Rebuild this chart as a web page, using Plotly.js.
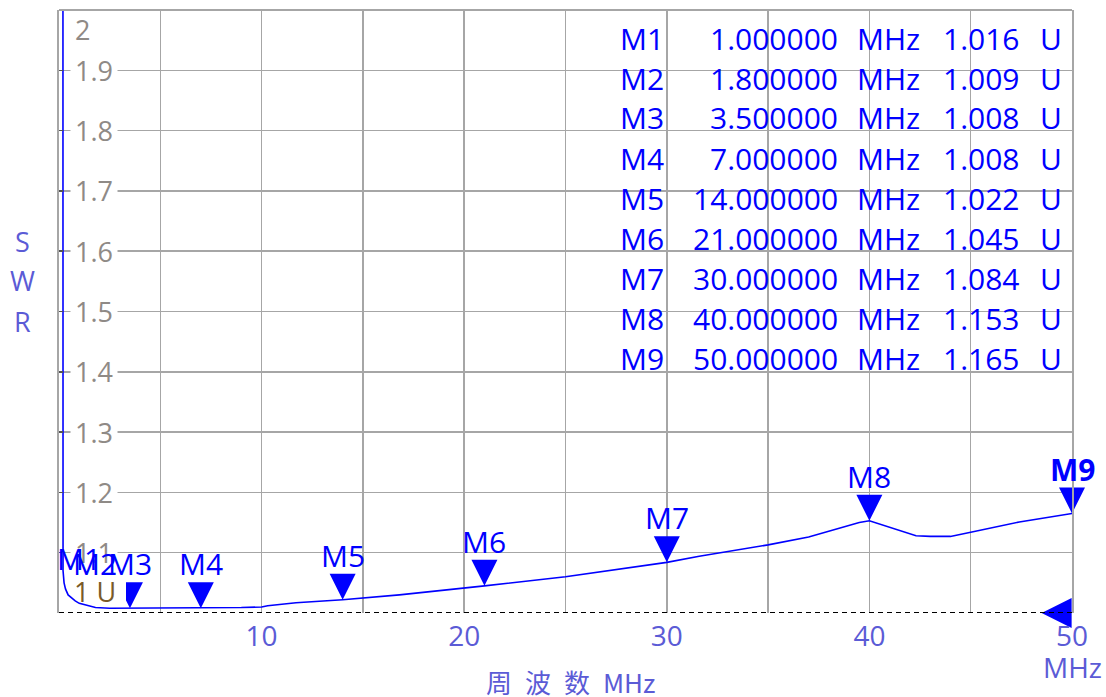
<!DOCTYPE html>
<html><head><meta charset="utf-8">
<script src="https://cdn.plot.ly/plotly-3.0.1.min.js"></script>
<style>html,body{margin:0;padding:0;background:#fff}</style>
</head><body><div id="chart" style="width:1106px;height:697px"></div>
<script>
// ---- data ----
const freqMHz = [0.19, 0.2, 0.25, 0.32, 0.45, 0.6, 0.8, 1.0, 1.4, 1.8, 2.5, 3.5, 5, 7, 9, 10, 10.3, 11.7, 13, 14, 16.8, 20, 21, 25, 30, 31.6, 35, 37, 38.5, 39.5, 40, 41, 42.3, 43, 44, 45, 47.4, 50];
const swr     = [3.0, 1.07, 1.05, 1.04, 1.03, 1.025, 1.02, 1.016, 1.012, 1.009, 1.008, 1.008, 1.008, 1.008, 1.009, 1.010, 1.012, 1.017, 1.020, 1.022, 1.030, 1.041, 1.045, 1.060, 1.084, 1.094, 1.113, 1.126, 1.140, 1.150, 1.153, 1.142, 1.128, 1.127, 1.127, 1.134, 1.151, 1.165];
const markerNames = ['M1','M2','M3','M4','M5','M6','M7','M8','M9'];
const markerFreqs = [1.0, 1.8, 3.5, 7.0, 14.0, 21.0, 30.0, 40.0, 50.0];
const markerSWR   = [1.016, 1.009, 1.008, 1.008, 1.022, 1.045, 1.084, 1.153, 1.165];
const markerTriangleShown = [false, false, true, true, true, true, true, true, true];
const xTickVals = [5, 10, 15, 20, 25, 30, 35, 40, 45, 50];
const xTickText = ['', '10', '', '20', '', '30', '', '40', '', '50'];
const yTickVals = [1.1, 1.2, 1.3, 1.4, 1.5, 1.6, 1.7, 1.8, 1.9];
const yTickText = ['1.1', '1.2', '1.3', '1.4', '1.5', '1.6', '1.7', '1.8', '1.9'];
const yTopLabel = '2';
const refLevel = 1.0;
const refLabel = '1 U';
const refMarkerX = 48.5;
const yTitleLetters = ['S', 'W', 'R'];
const xTitle = '周\u2002波\u2002数\u2002MHz';
const xUnit = 'MHz';

// ---- layout helpers (pixel -> paper) ----
const W = 1106, H = 697, ML = 59, MR = 34, MT = 10, MB = 84;
const PW = W - ML - MR, PH = H - MT - MB;
const px = x => (x - ML) / PW;
const py = y => (MT + PH - y) / PH;

const BLUE = '#0000ff';
const AXBLUE = '#5b5bd6';
const GRID = '#a6a6a6';
const TICKGRAY = '#8f8a86';
const FONT = 'Open Sans, Noto Sans, sans-serif';

const traces = [
  {x: freqMHz, y: swr, type: 'scatter', mode: 'lines',
   line: {color: BLUE, width: 1.6}, hoverinfo: 'skip', showlegend: false},
  {x: markerFreqs, y: markerSWR, type: 'scatter', mode: 'markers', cliponaxis: false,
   marker: {symbol: 'arrow-down', size: 26, color: BLUE, line: {width: 0},
            opacity: markerTriangleShown.map(s => s ? 1 : 0)},
   hoverinfo: 'skip', showlegend: false},
  {x: [refMarkerX], y: [refLevel], type: 'scatter', mode: 'markers', cliponaxis: false,
   marker: {symbol: 'arrow-left', size: 30, color: BLUE, line: {width: 0}},
   hoverinfo: 'skip', showlegend: false}
];

const annotations = [];
// y tick labels (inside, with white background masking the grid)
yTickVals.forEach((v, i) => annotations.push({
  xref: 'paper', x: px(70), xanchor: 'left', yref: 'y', y: v, yanchor: 'middle',
  text: yTickText[i], showarrow: false, bgcolor: '#ffffff', borderpad: 4,
  font: {family: FONT, size: 27, color: TICKGRAY}
}));
annotations.push({xref: 'paper', x: px(70), xanchor: 'left', yref: 'paper', y: py(30), yanchor: 'middle',
  text: yTopLabel, showarrow: false, borderpad: 4, font: {family: FONT, size: 27, color: TICKGRAY}});
// reference level label
annotations.push({xref: 'paper', x: px(73), xanchor: 'left', yref: 'paper', y: py(591), yanchor: 'middle',
  text: refLabel, showarrow: false, borderpad: 0,
  font: {family: FONT, size: 27, color: '#7a5a28'}});
// marker labels
markerNames.forEach((n, i) => annotations.push({
  xref: 'x', x: markerFreqs[i], yref: 'y', y: markerSWR[i], yanchor: 'bottom', yshift: 22,
  text: i === markerNames.length - 1 ? '<b>' + n + '</b>' : n, showarrow: false,
  font: {family: FONT, size: 30, color: BLUE}
}));
// marker table
markerNames.forEach((n, i) => {
  const yc = py(38 + 40 * i);
  const f = {family: FONT, size: 30, color: BLUE};
  annotations.push({xref: 'paper', yref: 'paper', x: px(666), y: yc, xanchor: 'right', yanchor: 'middle', text: n, showarrow: false, font: f});
  annotations.push({xref: 'paper', yref: 'paper', x: px(840), y: yc, xanchor: 'right', yanchor: 'middle', text: markerFreqs[i].toFixed(6), showarrow: false, font: f});
  annotations.push({xref: 'paper', yref: 'paper', x: px(855), y: yc, xanchor: 'left', yanchor: 'middle', text: 'MHz', showarrow: false, font: f});
  annotations.push({xref: 'paper', yref: 'paper', x: px(1022), y: yc, xanchor: 'right', yanchor: 'middle', text: markerSWR[i].toFixed(3), showarrow: false, font: f});
  annotations.push({xref: 'paper', yref: 'paper', x: px(1038), y: yc, xanchor: 'left', yanchor: 'middle', text: 'U', showarrow: false, font: f});
});
// axis titles
yTitleLetters.forEach((c, i) => annotations.push({
  xref: 'paper', x: px(22), xanchor: 'center', yref: 'paper', y: py(241 + 40 * i), yanchor: 'middle',
  text: c, showarrow: false, font: {family: FONT, size: 27, color: AXBLUE}
}));
annotations.push({xref: 'x', x: 50, xanchor: 'center', yref: 'paper', y: py(667), yanchor: 'middle',
  text: xUnit, showarrow: false, font: {family: FONT, size: 28, color: AXBLUE}});
annotations.push({xref: 'paper', x: px(570), xanchor: 'center', yref: 'paper', y: py(681), yanchor: 'middle',
  text: xTitle, showarrow: false, font: {family: 'Noto Sans CJK SC, sans-serif', size: 26, color: AXBLUE}});

const layout = {
  width: W, height: H,
  margin: {l: ML, r: MR, t: MT, b: MB, pad: 0},
  paper_bgcolor: '#ffffff', plot_bgcolor: '#ffffff',
  showlegend: false,
  xaxis: {range: [0, 50], tickvals: xTickVals, ticktext: xTickText, ticks: '', ticklabelstandoff: 4,
    showgrid: true, gridcolor: GRID, gridwidth: 1.5, zeroline: false, showline: false,
    tickfont: {family: FONT, size: 28, color: AXBLUE}, fixedrange: true},
  yaxis: {range: [1, 2], tickvals: yTickVals, showticklabels: false, ticks: 'inside', ticklen: 4,
    tickcolor: '#555555', tickwidth: 1.5, showgrid: true, gridcolor: GRID, gridwidth: 1.5,
    zeroline: false, showline: true, linecolor: GRID, linewidth: 2, mirror: true, fixedrange: true},
  shapes: [
    {type: 'line', xref: 'paper', yref: 'paper', x0: 0, x1: 1, y0: 1, y1: 1, line: {color: GRID, width: 2}},
    // white mask partially hiding the M3 triangle behind the reference label (as in the instrument display)
    {type: 'rect', xref: 'paper', yref: 'paper', x0: px(100), x1: px(126), y0: py(604), y1: py(576),
     fillcolor: '#ffffff', line: {width: 0}},
    {type: 'line', xref: 'paper', yref: 'y', x0: 0, x1: 1, y0: refLevel, y1: refLevel,
     line: {color: '#000000', width: 2, dash: '5px,4px'}}
  ],
  annotations: annotations
};

Plotly.newPlot('chart', traces, layout, {staticPlot: true, displayModeBar: false});
</script></body></html>
